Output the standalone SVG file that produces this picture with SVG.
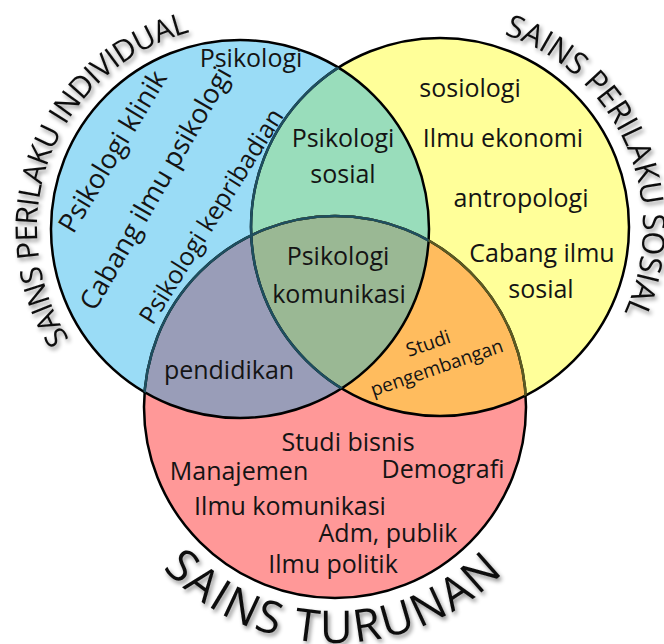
<svg xmlns="http://www.w3.org/2000/svg" xmlns:xlink="http://www.w3.org/1999/xlink" width="664" height="644" viewBox="0 0 664 644">
<defs>
<style>
.t{font-family:"Open Sans","Noto Sans","Liberation Sans",sans-serif;font-size:25px;fill:#141414;text-anchor:middle}
.s{font-size:19px}
.r{font-size:27px}
.title{font-family:"Open Sans","Noto Sans","Liberation Sans",sans-serif;fill:#0d0d0d;filter:url(#sh)}
.ring{fill:none;stroke-width:2.5}
</style>
<filter id="sh" x="-20%" y="-20%" width="140%" height="140%">
<feDropShadow dx="2" dy="3" stdDeviation="2" flood-color="#000" flood-opacity="0.45"/>
</filter>
<clipPath id="cB"><circle cx="240" cy="229" r="189"/></clipPath>
<clipPath id="cY"><circle cx="440" cy="227" r="189"/></clipPath>
<path id="pB" d="M70.3,340.5 A203,203 0 0 1 191.6,31.9"/>
<path id="pY" d="M503.1,34.1 A203,203 0 0 1 623.7,313.4"/>
<path id="pR" d="M161.8,567.3 A236,236 0 0 0 503.9,571.8"/>
</defs>
<g id="fills">
<circle cx="240" cy="229" r="189" fill="#9ADCF6"/>
<circle cx="440" cy="227" r="189" fill="#FFFF99"/>
<circle cx="335" cy="407" r="191" fill="#FF9898"/>
<circle cx="440" cy="227" r="189" fill="#99DDBB" clip-path="url(#cB)"/>
<circle cx="335" cy="407" r="191" fill="#999DB8" clip-path="url(#cB)"/>
<circle cx="335" cy="407" r="191" fill="#FFBC5E" clip-path="url(#cY)"/>
<g clip-path="url(#cB)"><circle cx="335" cy="407" r="191" fill="#9AB894" clip-path="url(#cY)"/></g>
</g>
<g id="connectors">
<circle class="ring" cx="335" cy="407" r="191" stroke="#000"/>
<circle class="ring" cx="440" cy="227" r="189" stroke="#000"/>
<circle class="ring" cx="240" cy="229" r="189" stroke="#000"/>
<circle class="ring" cx="335" cy="407" r="191" stroke="#5C5A22" clip-path="url(#cY)"/>
<circle class="ring" cx="335" cy="407" r="191" stroke="#1E4F60" clip-path="url(#cB)"/>
<circle class="ring" cx="440" cy="227" r="189" stroke="#1E4F60" clip-path="url(#cB)"/>
</g>
<g id="individual">
<text class="title" font-size="30"><textPath xlink:href="#pB" startOffset="50%" text-anchor="middle" textLength="384" lengthAdjust="spacing">SAINS PERILAKU INDIVIDUAL</textPath></text>
<text class="t" x="251" y="67">Psikologi</text>
<text class="t r" x="112" y="161" transform="rotate(-59 112 151)">Psikologi klinik</text>
<text class="t r" x="155" y="198" transform="rotate(-60 155 188)">Cabang ilmu psikologi</text>
<text class="t" x="211" y="225" transform="rotate(-58 211 216)">Psikologi kepribadian</text>
</g>
<g id="sosial">
<text class="title" font-size="31"><textPath xlink:href="#pY" startOffset="50%" text-anchor="middle" textLength="342" lengthAdjust="spacing">SAINS PERILAKU SOSIAL</textPath></text>
<text class="t" x="470" y="97">sosiologi</text>
<text class="t" x="503" y="147">Ilmu ekonomi</text>
<text class="t" x="521" y="207">antropologi</text>
<text class="t" x="542" y="262">Cabang ilmu</text>
<text class="t" x="541" y="298">sosial</text>
</g>
<g id="turunan">
<text class="title" font-size="45"><textPath xlink:href="#pR" startOffset="50%" text-anchor="middle" textLength="380" lengthAdjust="spacing">SAINS TURUNAN</textPath></text>
<text class="t" x="348" y="451">Studi bisnis</text>
<text class="t" x="239" y="480">Manajemen</text>
<text class="t" x="443" y="478">Demografi</text>
<text class="t" x="290" y="515">Ilmu komunikasi</text>
<text class="t" x="388" y="542">Adm, publik</text>
<text class="t" x="333" y="573">Ilmu politik</text>
</g>
<g id="psikologi-sosial">
<text class="t" x="343" y="147">Psikologi</text>
<text class="t" x="343" y="183">sosial</text>
</g>
<g id="psikologi-komunikasi">
<text class="t" x="338" y="265">Psikologi</text>
<text class="t" x="339" y="303">komunikasi</text>
</g>
<g id="pendidikan">
<text class="t" x="229" y="379">pendidikan</text>
</g>
<g id="studi-pengembangan">
<text class="t s" x="428" y="350" transform="rotate(-19 428 343)">Studi</text>
<text class="t s" x="438" y="374" transform="rotate(-19 438 371)">pengembangan</text>
</g>
</svg>
